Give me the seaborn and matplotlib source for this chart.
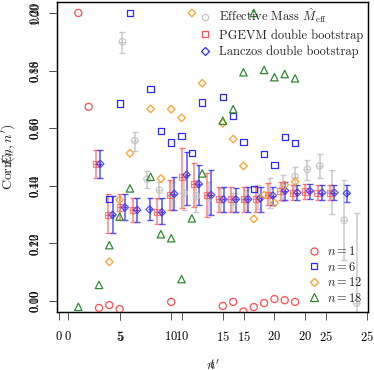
import numpy as np
import pandas as pd
import matplotlib
matplotlib.use("Agg")
import matplotlib.pyplot as plt
import seaborn as sns
from matplotlib.lines import Line2D

# ---------------- data: correlator layer (x = n', y = normalised correlator) ----------------
n1_x = [1, 2, 3, 4, 5, 10, 15, 16, 17, 18, 19, 20, 21, 22]
n1_y = [1.0, 0.674, -0.024, -0.014, -0.028, -0.003, -0.017, -0.003, -0.036, -0.021, -0.007, 0.007, 0.003, -0.003]
n6_x = [4, 5, 6, 8, 9, 10, 11, 12, 13, 15, 16, 17, 18, 19, 20, 21, 22]
n6_y = [0.355, 0.686, 1.0, 0.736, 0.590, 0.550, 0.573, 0.514, 0.689, 0.709, 0.642, 0.551, 0.390, 0.511, 0.472, 0.570, 0.548]
n12_x = [4, 5, 6, 8, 9, 10, 11, 12, 13, 15, 16, 17, 18, 19, 20, 21, 22]
n12_y = [0.136, 0.351, 0.513, 0.667, 0.425, 0.666, 0.636, 1.0, 0.756, 0.617, 0.5625, 0.469, 0.285, 0.368, 0.341, 0.403, 0.414]
n18_x = [1, 3, 4, 5, 6, 8, 9, 10, 11, 12, 13, 15, 16, 17, 18, 19, 20, 21, 22]
n18_y = [-0.020, 0.056, 0.194, 0.293, 0.391, 0.431, 0.232, 0.218, 0.076, 0.287, 0.443, 0.626, 0.666, 0.794, 1.0, 0.802, 0.777, 0.788, 0.773]
corr_labels = ["$n = 1$", "$n = 6$", "$n = 12$", "$n = 18$"]

# ---------------- data: mass layer (x = t) ----------------
meff_t = [5, 6, 7, 8, 9, 10, 11, 12, 13, 14, 15, 16, 17, 18, 19, 20, 21, 22, 23, 24]
meff_v = [0.1900, 0.1557, 0.1423, 0.1385, 0.1365, 0.1375, 0.1365, 0.1358, 0.1351, 0.1345,
          0.1351, 0.1361, 0.1375, 0.1392, 0.1432, 0.1457, 0.1469, 0.1378, 0.1281, 0.0993]
meff_hi = [0.1935, 0.1588, 0.1452, 0.1414, 0.1413, 0.1434, 0.1420, 0.1413, 0.1392, 0.1375,
           0.1385, 0.1403, 0.1427, 0.1438, 0.1466, 0.1490, 0.1509, 0.1455, 0.1420, 0.1306]
meff_lo = [0.1860, 0.1522, 0.1391, 0.1353, 0.1316, 0.1316, 0.1309, 0.1302, 0.1309, 0.1310,
           0.1316, 0.1319, 0.1323, 0.1347, 0.1385, 0.1420, 0.1426, 0.1302, 0.1142, 0.0681]

pg_t = [3, 4, 5, 6, 8, 9, 10, 11, 12, 13, 14, 15, 16, 17, 18, 19, 20, 21, 22]
pg_v = [0.1476, 0.1299, 0.1325, 0.1316, 0.1308, 0.1368, 0.1430, 0.1406, 0.1368, 0.1353,
        0.1353, 0.1353, 0.1354, 0.1368, 0.1383, 0.1376, 0.1380, 0.1376, 0.1376]
pg_hi = [0.1524, 0.1372, 0.1372, 0.1358, 0.1358, 0.1420, 0.1530, 0.1479, 0.1443, 0.1397,
         0.1397, 0.1397, 0.1397, 0.1410, 0.1414, 0.1403, 0.1406, 0.1403, 0.1403]
pg_lo = [0.1426, 0.1235, 0.1281, 0.1275, 0.1267, 0.1316, 0.1322, 0.1327, 0.1293, 0.1310,
         0.1310, 0.1310, 0.1310, 0.1333, 0.1351, 0.1351, 0.1353, 0.1351, 0.1351]

lz_t = [3, 4, 5, 6, 7, 8, 9, 10, 11, 12, 13, 14, 15, 16, 17, 18, 19, 20, 21, 22, 23]
lz_v = [0.1476, 0.1299, 0.1325, 0.1316, 0.1318, 0.1308, 0.1372, 0.1438, 0.1406, 0.1368, 0.1353,
        0.1353, 0.1353, 0.1357, 0.1366, 0.1383, 0.1376, 0.1382, 0.1376, 0.1376, 0.1374]
lz_hi = [0.1524, 0.1365, 0.1372, 0.1358, 0.1358, 0.1358, 0.1430, 0.1518, 0.1472, 0.1455, 0.1397,
         0.1392, 0.1397, 0.1397, 0.1397, 0.1414, 0.1403, 0.1406, 0.1403, 0.1403, 0.1403]
lz_lo = [0.1426, 0.1235, 0.1281, 0.1275, 0.1281, 0.1267, 0.1316, 0.1333, 0.1333, 0.1299, 0.1310,
         0.1310, 0.1310, 0.1310, 0.1333, 0.1351, 0.1351, 0.1353, 0.1351, 0.1351, 0.1345]
mass_labels = [r"Effective Mass $\hat{M}_{\rm eff}$", "PGEVM double bootstrap", "Lanczos double bootstrap"]

x_ticks = [0, 5, 10, 15, 20, 25]
mass_yticks = [0.10, 0.12, 0.14, 0.16, 0.18, 0.20]
corr_yticks = [0.0, 0.2, 0.4, 0.6, 0.8, 1.0]

# ---------------- style ----------------
sns.set_theme(style="ticks")
plt.rcParams.update({
    "font.family": "serif",
    "font.serif": ["cmr10", "DejaVu Serif"],
    "mathtext.fontset": "cm",
    "axes.formatter.use_mathtext": True,
    "axes.unicode_minus": False,
    "axes.edgecolor": "black",
    "axes.linewidth": 0.9,
    "xtick.color": "#555555",
    "ytick.color": "#555555",
    "xtick.labelcolor": "black",
    "ytick.labelcolor": "black",
})

C_RED = "#ff4d4d"
C_BLUE = "#2a2aff"
C_GRAY = "#c4c4c4"
C_ORANGE = "#ffa02a"
C_GREEN = "#2f8a2f"

fig = plt.figure(figsize=(3.74, 3.70), dpi=100)
rect = [57 / 374, 58 / 370, 311 / 374, 310 / 370]
ax1 = fig.add_axes(rect)              # mass layer
ax2 = fig.add_axes(rect)              # correlator layer
ax2.patch.set_visible(False)

# ---- mass layer ----
off_pg, off_me, off_lz = 0.0, 0.17, 0.37
def errbar(ax, t, v, lo, hi, off, color, alpha, marker, ms):
    t = np.asarray(t, float) + off
    v = np.asarray(v); lo = np.asarray(lo); hi = np.asarray(hi)
    ax.errorbar(t, v, yerr=[v - lo, hi - v], fmt="none", ecolor=color, alpha=alpha,
                elinewidth=1.1, capsize=2.2, capthick=1.0, zorder=2)
    df = pd.DataFrame({"t": t, "v": v})
    sns.scatterplot(data=df, x="t", y="v", ax=ax, marker=marker, s=ms, color=color,
                    facecolor="none", edgecolor=color, linewidth=0.9, alpha=alpha, zorder=3, legend=False)
    sns.scatterplot(data=df, x="t", y="v", ax=ax, marker="+", s=ms * 0.9, color=color,
                    linewidth=0.8, alpha=alpha, zorder=3, legend=False)

errbar(ax1, meff_t, meff_v, meff_lo, meff_hi, off_me, C_GRAY, 0.9, "o", 22)
errbar(ax1, pg_t, pg_v, pg_lo, pg_hi, off_pg, C_RED, 0.7, "s", 20)
errbar(ax1, lz_t, lz_v, lz_lo, lz_hi, off_lz, C_BLUE, 0.8, "D", 14)

ax1.set_xlim(-0.14, 25.09)
ax1.set_ylim(0.0962, 0.2038)
ax1.set_xticks(x_ticks)
ax1.set_yticks(mass_yticks)
ax1.set_yticklabels([f"{v:.2f}" for v in mass_yticks])
ax1.set_xlabel("$t$", fontsize=10, labelpad=10)
ax1.set_ylabel("$E_h$", fontsize=10, labelpad=9)

# ---- correlator layer ----
series = [(n1_x, n1_y, "o", C_RED, 26), (n6_x, n6_y, "s", C_BLUE, 20),
          (n12_x, n12_y, "D", C_ORANGE, 15), (n18_x, n18_y, "^", C_GREEN, 28)]
for (xs, ys, mk, col, s) in series:
    df = pd.DataFrame({"n": xs, "c": ys})
    sns.scatterplot(data=df, x="n", y="c", ax=ax2, marker=mk, s=s, color=col,
                    facecolor="none", edgecolor=col, linewidth=0.9, zorder=4, legend=False)

ax2.set_xlim(-1.07, 29.07)
ax2.set_ylim(-0.038, 1.038)
ax2.set_xticks(x_ticks)
ax2.set_yticks(corr_yticks)
ax2.set_yticklabels([f"{v:.2f}" for v in corr_yticks])
ax2.set_xlabel("$n'$", fontsize=10, labelpad=10)
ax2.set_ylabel(r"Corr$(n, n')$", fontsize=10, labelpad=9)

for ax in (ax1, ax2):
    ax.tick_params(axis="both", which="major", direction="out", length=6, width=0.7,
                   labelsize=9, top=False, right=False)
    ax.tick_params(axis="x", pad=7)
    ax.tick_params(axis="y", pad=5, labelrotation=90)
    for lbl in ax.get_yticklabels():
        lbl.set_va("center")
    for sp in ax.spines.values():
        sp.set_visible(True)
        sp.set_linewidth(0.9)

# ---- legends ----
mh = [Line2D([], [], marker="o", ls="", mfc="none", mec=C_GRAY, ms=4.5, mew=0.9),
      Line2D([], [], marker="s", ls="", mfc="none", mec=C_RED, ms=4.3, mew=0.9),
      Line2D([], [], marker="D", ls="", mfc="none", mec=C_BLUE, ms=3.7, mew=0.9)]
leg1 = ax2.legend(mh, mass_labels, loc="upper left", bbox_to_anchor=(0.455, 0.985),
                  frameon=False, fontsize=9, handlelength=1.0, handletextpad=0.6,
                  labelspacing=0.3, borderpad=0, borderaxespad=0)
ax2.add_artist(leg1)
ch = [Line2D([], [], marker=mk, ls="", mfc="none", mec=col, ms=np.sqrt(s), mew=0.9)
      for (_, _, mk, col, s) in series]
ax2.legend(ch, corr_labels, loc="upper left", bbox_to_anchor=(0.805, 0.215),
           frameon=False, fontsize=9, handlelength=1.0, handletextpad=0.6,
           labelspacing=0.2, borderpad=0, borderaxespad=0)

fig.savefig("out.png", dpi=100)
